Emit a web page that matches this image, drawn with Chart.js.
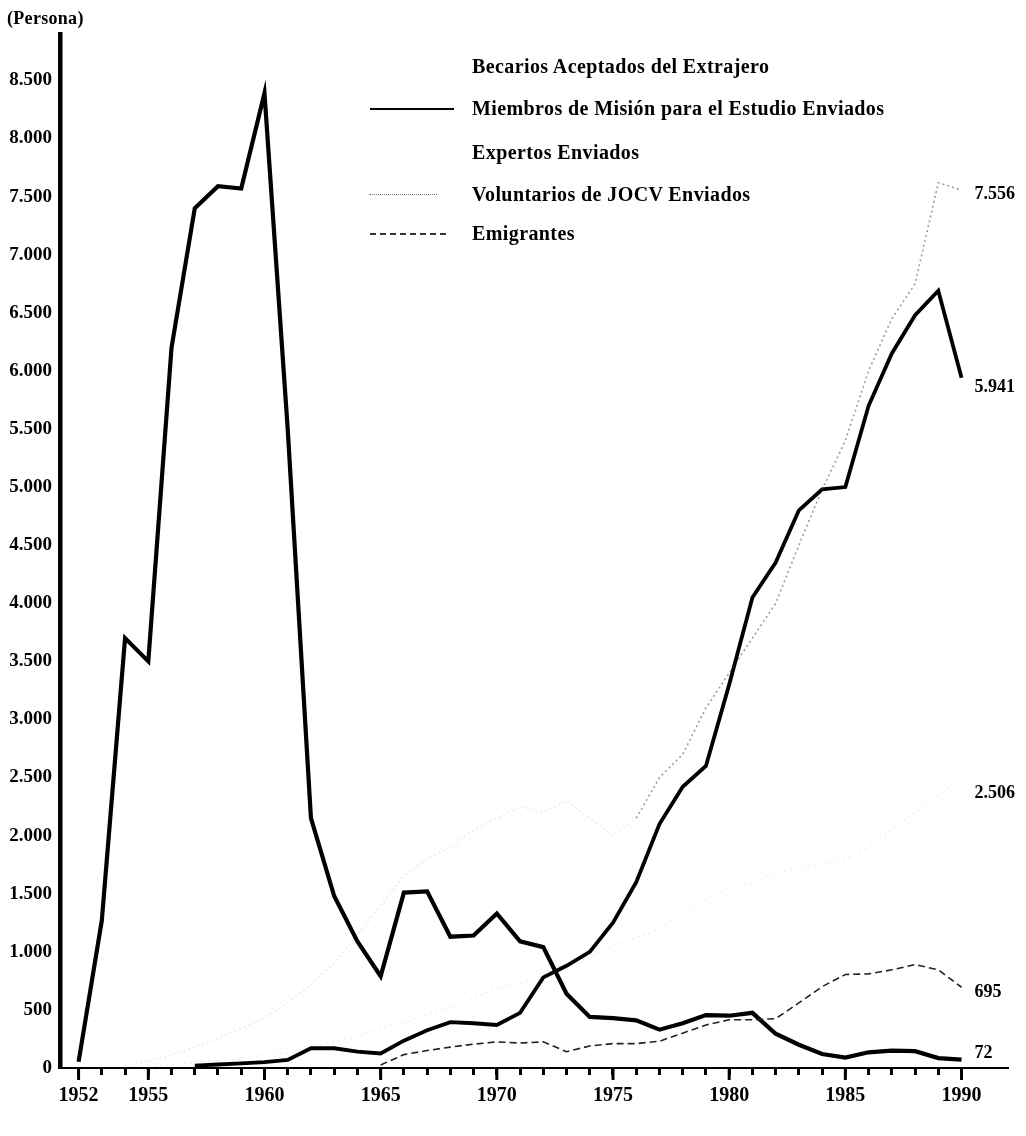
<!DOCTYPE html>
<html><head><meta charset="utf-8">
<script src="https://cdn.jsdelivr.net/npm/chart.js@4.4.1/dist/chart.umd.min.js"></script>
<style>
html,body{margin:0;padding:0;background:#fff;}
#wrap{position:relative;width:1026px;height:1136px;overflow:hidden;}
canvas{position:absolute;left:0;top:0;}
.t{position:absolute;font-family:"Liberation Serif",serif;font-weight:bold;color:#000;white-space:nowrap;line-height:1;}
.s{position:absolute;height:0;}
</style></head><body>
<div id="wrap">
<canvas id="c" width="1026" height="1136"></canvas>
<div class="t" style="left:7px;top:9px;font-size:18px;letter-spacing:0.3px;">(Persona)</div>
<div id="legend"></div>
</div>
<script>
// ---- data ----
const years = [1952,1953,1954,1955,1956,1957,1958,1959,1960,1961,1962,1963,1964,1965,1966,1967,1968,1969,1970,1971,1972,1973,1974,1975,1976,1977,1978,1979,1980,1981,1982,1983,1984,1985,1986,1987,1988,1989,1990];
const labeledYears = [1952,1955,1960,1965,1970,1975,1980,1985,1990];
const yTicks = [0,500,1000,1500,2000,2500,3000,3500,4000,4500,5000,5500,6000,6500,7000,7500,8000,8500];
const seriesNames = ['Becarios Aceptados del Extrajero','Miembros de Misión para el Estudio Enviados','Expertos Enviados','Voluntarios de JOCV Enviados','Emigrantes'];

const becarios = [null,null,20,60,110,180,260,340,430,560,720,900,1150,1400,1650,1800,1900,2050,2150,2250,2200,2300,2150,2000,2150,2500,2700,3100,3400,3700,4000,4500,4980,5400,6000,6450,6750,7620,7556];
const miembros = [null,null,null,null,null,20,30,40,50,70,170,170,140,125,235,325,395,385,370,475,780,880,1000,1250,1600,2100,2420,2600,3300,4050,4350,4800,4980,5000,5700,6150,6480,6690,5941];
const expertos = [null,null,null,10,30,50,60,80,110,130,180,230,270,340,390,470,520,600,690,730,800,900,950,1050,1120,1200,1330,1450,1550,1600,1680,1720,1760,1800,1900,2050,2200,2350,2506];
const voluntarios = [null,null,null,null,null,null,null,null,null,null,null,null,null,26,115,150,180,205,225,215,225,140,190,210,210,230,300,370,415,415,425,560,700,805,810,845,890,845,695];
const emigrantes = [54,1270,3700,3500,6200,7400,7590,7570,8390,5500,2150,1480,1090,790,1510,1520,1130,1140,1330,1090,1040,640,440,430,410,330,385,455,450,475,295,200,120,90,135,150,145,85,72];

// ---- styles ----
const FONT = 'Liberation Serif';
const fmt = v => Math.round(v).toString().replace(/\B(?=(\d{3})+(?!\d))/g, '.');
const toPts = arr => years.map((yr, i) => ({x: yr, y: arr[i]}));
const seriesData = [becarios, miembros, expertos, voluntarios, emigrantes];
const seriesStyle = [
  {color:'rgba(60,60,60,0.5)', faint:'rgba(60,60,60,0.10)', faintBefore:1976, width:1.6, dash:[2,3], labelDy:4},
  {color:'#000', width:3.8, dash:[], labelDy:10},
  {color:'rgba(90,90,90,0.10)', width:1.4, dash:[2,4], labelDy:16},
  {color:'#222', width:1.6, dash:[7,4], labelDy:5},
  {color:'#000', width:4.2, dash:[], labelDy:-6}
];

const datasets = seriesData.map((arr, i) => {
  const st = seriesStyle[i];
  const ds = {
    label: seriesNames[i],
    data: toPts(arr),
    borderColor: st.color,
    borderWidth: st.width,
    borderDash: st.dash,
    pointRadius: 0,
    tension: 0,
    fill: false,
    spanGaps: false
  };
  if (st.faint) {
    ds.segment = { borderColor: c => c.p0.parsed.x < st.faintBefore ? st.faint : st.color };
  }
  return ds;
});

const endLabels = {
  id: 'endLabels',
  afterDatasetsDraw(chart) {
    const ctx = chart.ctx;
    ctx.save();
    ctx.font = 'bold 18px "' + FONT + '"';
    ctx.fillStyle = '#000';
    ctx.textAlign = 'left';
    ctx.textBaseline = 'middle';
    chart.data.datasets.forEach((ds, i) => {
      const meta = chart.getDatasetMeta(i);
      const last = meta.data[meta.data.length - 1];
      const val = ds.data[ds.data.length - 1].y;
      ctx.fillText(fmt(val), last.x + 13, last.y + seriesStyle[i].labelDy);
    });
    ctx.restore();
  }
};

const majorTicks = {
  id: 'majorTicks',
  afterDraw(chart) {
    const ctx = chart.ctx, xs = chart.scales.x, bottom = chart.chartArea.bottom;
    ctx.save();
    ctx.strokeStyle = '#000';
    ctx.lineWidth = 3;
    labeledYears.forEach(yr => {
      const px = xs.getPixelForValue(yr);
      ctx.beginPath();
      ctx.moveTo(px, bottom);
      ctx.lineTo(px, bottom + 12);
      ctx.stroke();
    });
    ctx.restore();
  }
};

new Chart(document.getElementById('c').getContext('2d'), {
  type: 'line',
  data: { datasets },
  options: {
    responsive: false,
    animation: false,
    layout: { padding: { top: 34, right: 18, left: 0, bottom: 0 } },
    plugins: { legend: { display: false }, tooltip: { enabled: false } },
    scales: {
      x: {
        type: 'linear', min: 1951.2, max: 1992,
        afterBuildTicks: s => { s.ticks = years.map(v => ({ value: v })); },
        afterFit: s => { s.height = 68; },
        ticks: {
          autoSkip: false, maxRotation: 0, minRotation: 0, padding: 9, color: '#000',
          font: { family: FONT, weight: 'bold', size: 20 },
          callback: v => labeledYears.includes(v) ? String(v) : ''
        },
        grid: { display: true, drawOnChartArea: false, drawTicks: true, tickLength: 7, tickWidth: 3, tickColor: '#000' },
        border: { display: true, color: '#000', width: 2 }
      },
      y: {
        min: 0, max: 8900,
        afterBuildTicks: s => { s.ticks = yTicks.map(v => ({ value: v })); },
        afterFit: s => { s.width = 60; },
        ticks: {
          padding: 8, color: '#000',
          font: { family: FONT, weight: 'bold', size: 19 },
          callback: v => fmt(v)
        },
        grid: { display: false, drawTicks: false },
        border: { display: true, color: '#000', width: 4.5 }
      }
    }
  },
  plugins: [endLabels, majorTicks]
});

// ---- legend overlay ----
const legendRows = [
  { y: 66, sample: null },
  { y: 108, sample: { l: 370, w: 84, css: '2.5px solid #000' } },
  { y: 152, sample: null },
  { y: 194, sample: { l: 369, w: 68, css: '1.5px dotted #777' } },
  { y: 233, sample: { l: 370, w: 76, css: '2px dashed #333' } }
];
const lg = document.getElementById('legend');
legendRows.forEach((r, i) => {
  const t = document.createElement('div');
  t.className = 't';
  t.style.left = '472px';
  t.style.top = (r.y - 10) + 'px';
  t.style.fontSize = '20px';
  t.style.letterSpacing = '0.4px';
  t.textContent = seriesNames[i];
  lg.appendChild(t);
  if (r.sample) {
    const s = document.createElement('div');
    s.className = 's';
    s.style.left = r.sample.l + 'px';
    s.style.top = r.y + 'px';
    s.style.width = r.sample.w + 'px';
    s.style.borderTop = r.sample.css;
    lg.appendChild(s);
  }
});
</script>
</body></html>
